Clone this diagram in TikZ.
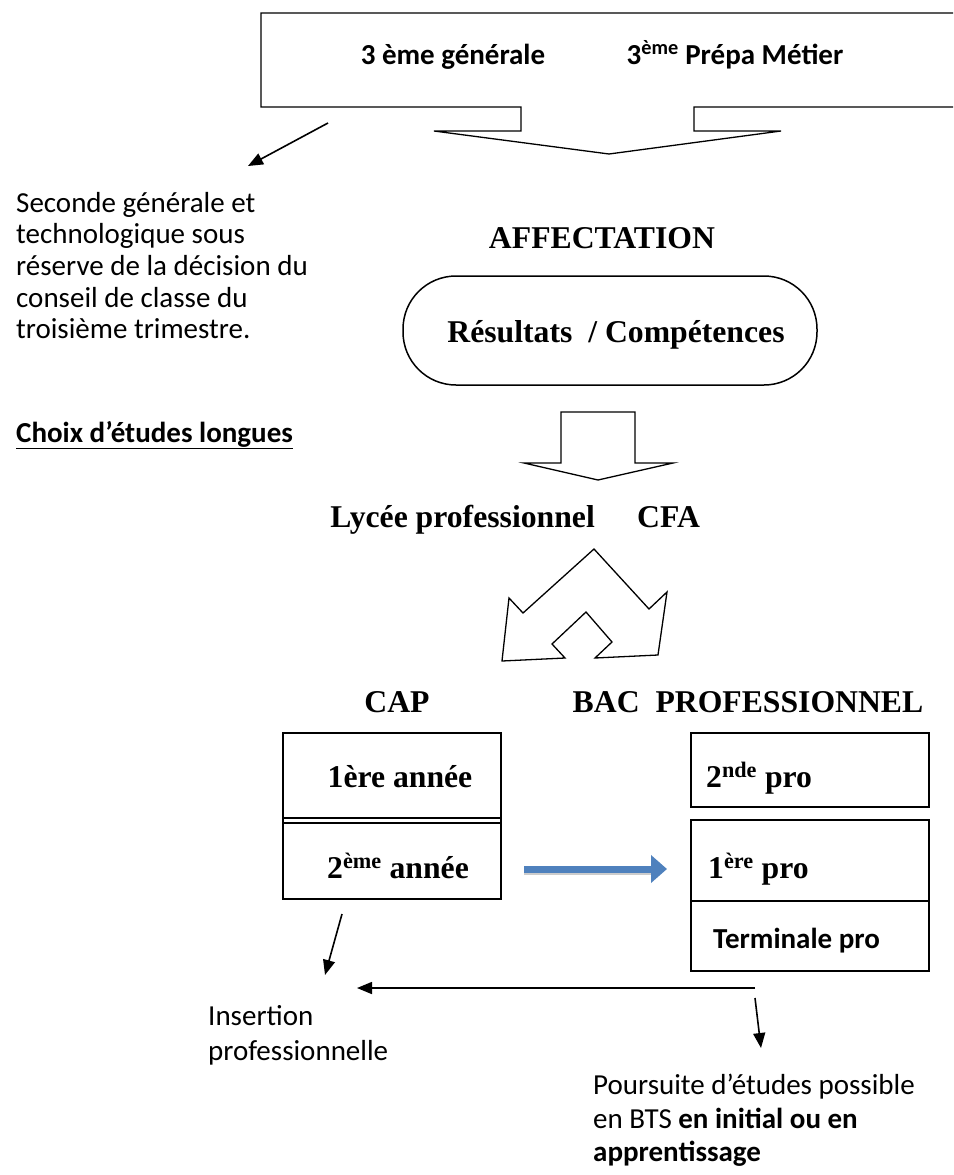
\documentclass[tikz,border=0pt]{standalone}
\usepackage{fontspec}
\setmainfont{Carlito}
\newfontfamily\tnr{Liberation Serif}
\usepackage{tikz}
\usetikzlibrary{calc,arrows.meta}
\definecolor{bleuword}{HTML}{4F81BD}

\tikzset{
  body/.style={font=\fontsize{29}{34}\selectfont, inner sep=0pt, anchor=base west},
  bodyb/.style={body, font=\bfseries\fontsize{29}{34}\selectfont},
  titre/.style={font=\tnr\bfseries\fontsize{31.7}{36}\selectfont, inner sep=0pt, anchor=base},
  boite/.style={draw, line width=1.5pt, inner sep=0pt},
  forme/.style={draw, line width=1.3pt, line join=miter},
  fleche/.style={line width=1.6pt, -{Triangle[length=15pt,width=12pt]}}
}

\begin{document}
\begin{tikzpicture}[x=1pt,y=-1pt]
    \useasboundingbox (0,0) rectangle (953,1175);

    \draw[forme] (953,13) -- (261,13) -- (261,107) -- (521,107) -- (521,131) -- (434,131)
        -- (609,154) -- (781,131) -- (694,131) -- (694,107) -- (953,107);
    \node[bodyb, anchor=base] (gen) at (453,64) {3 ème générale};
    \node[bodyb, anchor=base] (prepa) at (735,64) {3\textsuperscript{ème} Prépa Métier};

    \coordinate (d1) at (328,123);
    \coordinate (d2) at (248,166);
    \draw[fleche] (d1) -- (d2);

    \foreach \ligne [count=\i from 0] in {Seconde générale et, technologique sous,
        réserve de la décision du, conseil de classe du, troisième trimestre.}
        \node[body] (sec\i) at (16,212+31.7*\i) {\ligne};
    \node[bodyb] (choix) at (16,442) {\underline{Choix d’études longues}};

    \node[titre] (affect) at (602,248) {AFFECTATION};
    \node[boite, rounded corners=53pt, minimum width=414pt, minimum height=109pt] (res) at (610,330.5) {};
    \node[titre] (rescomp) at (616,342) {Résultats~ / Compétences};

    \draw[forme] (561,412) -- (635,412) -- (635,463) -- (673,463) -- (598,480)
        -- (524,463) -- (561,463) -- cycle;

    \node[titre, anchor=base east] (lycee) at (595,527) {Lycée professionnel};
    \node[titre, anchor=base west] (cfa) at (637,527) {CFA};

    \draw[forme] (594,549) -- (649,609) -- (667,592) -- (658,655) -- (595,658) -- (612,642)
        -- (586,612) -- (552,644) -- (565,658) -- (502,661) -- (509,598) -- (523,613) -- cycle;

    \node[titre] (cap) at (397,712) {CAP};
    \node[titre] (bac) at (748,712) {BAC~ PROFESSIONNEL};

    \node[boite, minimum width=218pt, minimum height=166pt] (capbox) at (392,816) {};
    \coordinate (sep1) at (0,818);
    \coordinate (sep2) at (0,823);
    \draw[line width=1.3pt] (capbox.west |- sep1) -- (capbox.east |- sep1);
    \draw[line width=1.3pt] (capbox.west |- sep2) -- (capbox.east |- sep2);
    \node[titre] (an1) at (400,787) {1ère année};
    \node[titre] (an2) at (398,878) {2\textsuperscript{ème} année};

    \node[boite, minimum width=238pt, minimum height=74pt] (bac1) at (810,770) {};
    \node[boite, minimum width=238pt, minimum height=81pt] (bac2) at (810,860.5) {};
    \node[boite, minimum width=238pt, minimum height=70pt] (bac3) at (810,936) {};
    \node[titre, anchor=base west] (pro2) at (706,787) {2\textsuperscript{nde} pro};
    \node[titre, anchor=base west] (pro1) at (708,878) {1\textsuperscript{ère} pro};
    \node[bodyb] (term) at (713,948) {Terminale pro};

    \coordinate (b1) at (524,869);
    \coordinate (b2) at (667,869);
    \draw[line width=3pt, black!20] ([yshift=-4pt]b1) -- ([yshift=-4pt,xshift=-16pt]b2);
    \draw[line width=7pt, bleuword, -{Triangle[length=16pt,width=27pt]}] (b1) -- (b2);

    \coordinate (c1) at (342,914);
    \coordinate (c2) at (325,975);
    \draw[fleche] (c1) -- (c2);
    \coordinate (h1) at (755,988);
    \coordinate (h2) at (357,988);
    \draw[fleche] (h1) -- (h2);
    \coordinate (r1) at (755,998);
    \coordinate (r2) at (761,1048);
    \draw[fleche] (r1) -- (r2);

    \node[body] (ins1) at (208,1025) {Insertion};
    \node[body] (ins2) at (208,1060) {professionnelle};

    \node[body] (pour1) at (593,1094) {Poursuite d’études possible};
    \node[body] (pour2) at (593,1128) {en BTS \textbf{en initial ou en}};
    \node[body] (pour3) at (593,1161) {\textbf{apprentissage}};
\end{tikzpicture}
\end{document}
